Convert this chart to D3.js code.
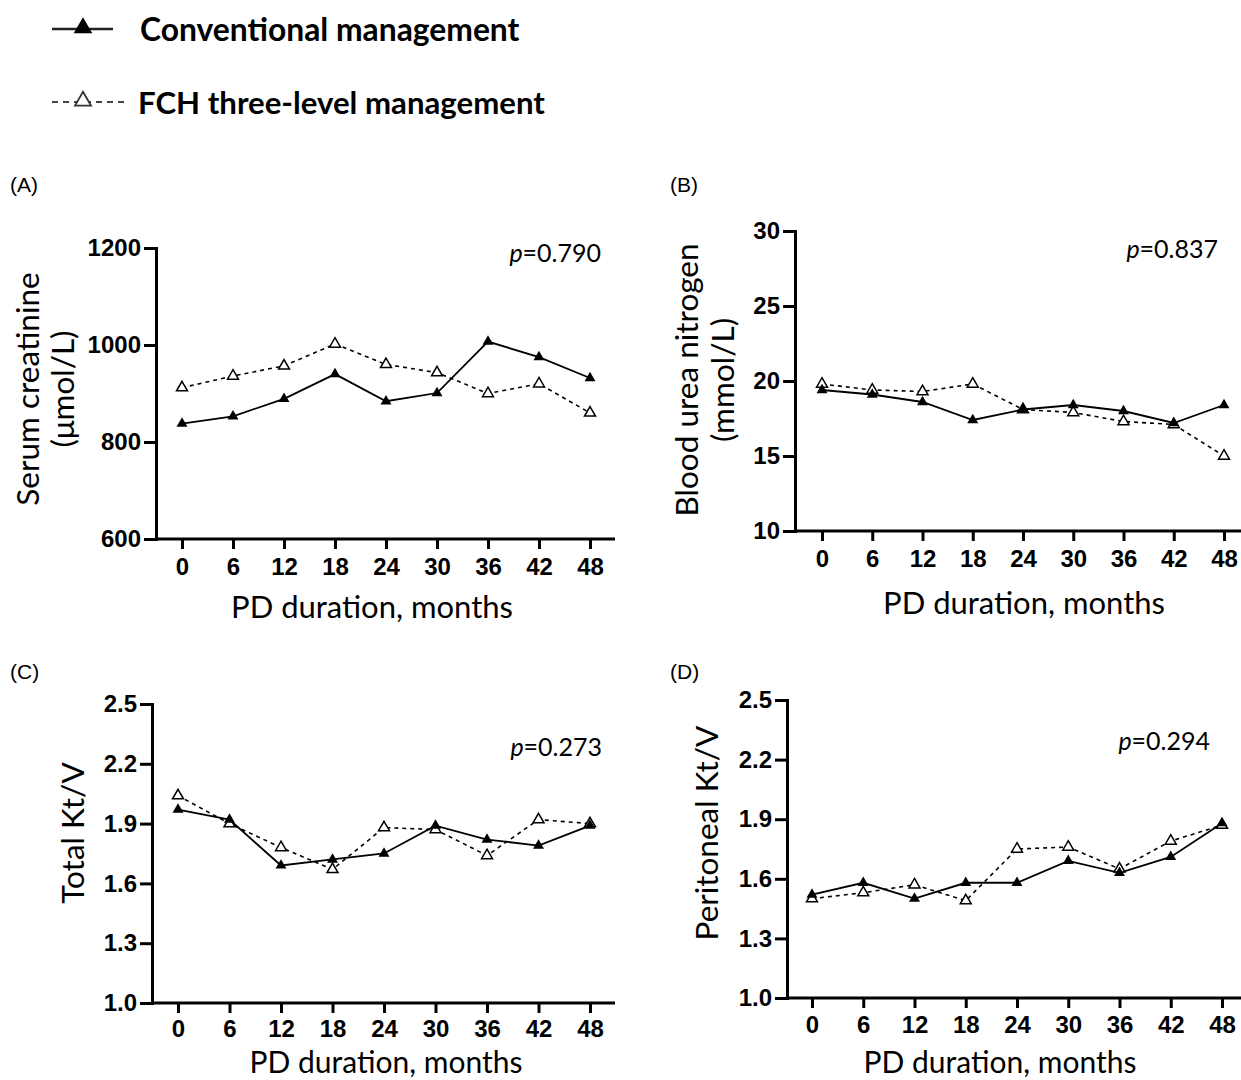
<!DOCTYPE html>
<html>
<head>
<meta charset="utf-8">
<script src="https://cdn.jsdelivr.net/npm/d3@7"></script>
<style>
  body { margin: 0; background: #fff; }
  svg { display: block; }
</style>
</head>
<body>
<div id="vis"></div>
<script>
//Declare constants for frame
const FRAME_WIDTH = 1241;
const FRAME_HEIGHT = 1080;

// data
const MONTHS = [0, 6, 12, 18, 24, 30, 36, 42, 48];
const SERIES_NAMES = ["Conventional management", "FCH three-level management"];

const CREAT_CONV = [838, 853, 889, 940, 884, 901, 1007, 975, 932];
const CREAT_FCH  = [912, 936, 957, 1002, 960, 943, 900, 920, 860];
const BUN_CONV   = [19.4, 19.1, 18.6, 17.4, 18.1, 18.4, 18.0, 17.2, 18.4];
const BUN_FCH    = [19.8, 19.4, 19.3, 19.8, 18.1, 17.9, 17.3, 17.1, 15.0];
const TKTV_CONV  = [1.97, 1.92, 1.69, 1.72, 1.75, 1.89, 1.82, 1.79, 1.89];
const TKTV_FCH   = [2.04, 1.90, 1.78, 1.67, 1.88, 1.87, 1.74, 1.92, 1.90];
const PKTV_CONV  = [1.52, 1.58, 1.50, 1.58, 1.58, 1.69, 1.63, 1.71, 1.88];
const PKTV_FCH   = [1.50, 1.53, 1.57, 1.49, 1.75, 1.76, 1.65, 1.79, 1.87];

const CREAT_TICKS = [600, 800, 1000, 1200];
const BUN_TICKS   = [10, 15, 20, 25, 30];
const KTV_TICKS   = [1.0, 1.3, 1.6, 1.9, 2.2, 2.5];

const P_VALUES = ["0.790", "0.837", "0.273", "0.294"];
const X_TITLE = "PD duration, months";

const TEXT_FONT = "Lato, 'Open Sans', sans-serif";
const TICK_FONT = "'Liberation Sans', Arial, sans-serif";

// panel layout (pixel positions of each small chart)
const PANELS = [
  {letter: "(A)", lx: 10, ly: 184, axisX: 156, xEnd: 615, x0: 182, x48: 590, yTop: 248, yBot: 539,
   conv: CREAT_CONV, fch: CREAT_FCH, ticks: CREAT_TICKS, fmt: d3.format("d"),
   titles: ["Serum creatinine", "(\u03bcmol/L)"], titleX: [27, 62], titleY: 389,
   xtX: 372, xtY: 606, xtSize: 31, pad: 9, p: P_VALUES[0], pX: 601, pY: 252},
  {letter: "(B)", lx: 670, ly: 184, axisX: 795, xEnd: 1250, x0: 822, x48: 1224, yTop: 231, yBot: 531,
   conv: BUN_CONV, fch: BUN_FCH, ticks: BUN_TICKS, fmt: d3.format("d"),
   titles: ["Blood urea nitrogen", "(mmol/L)"], titleX: [686, 722], titleY: 380,
   xtX: 1024, xtY: 602, xtSize: 31, pad: 9, p: P_VALUES[1], pX: 1218, pY: 248},
  {letter: "(C)", lx: 10, ly: 671, axisX: 152, xEnd: 615, x0: 178, x48: 590, yTop: 704, yBot: 1003,
   conv: TKTV_CONV, fch: TKTV_FCH, ticks: KTV_TICKS, fmt: d3.format(".1f"),
   titles: ["Total Kt/V"], titleX: [72], titleY: 833,
   xtX: 386, xtY: 1061, xtSize: 30, pad: 7, p: P_VALUES[2], pX: 602, pY: 746},
  {letter: "(D)", lx: 670, ly: 671, axisX: 787, xEnd: 1250, x0: 812, x48: 1222, yTop: 700, yBot: 998,
   conv: PKTV_CONV, fch: PKTV_FCH, ticks: KTV_TICKS, fmt: d3.format(".1f"),
   titles: ["Peritoneal Kt/V"], titleX: [706], titleY: 833,
   xtX: 1000, xtY: 1061, xtSize: 30, pad: 8, p: P_VALUES[3], pX: 1210, pY: 740}
];

const FRAME = d3.select("#vis")
                .append("svg")
                  .attr("width", FRAME_WIDTH)
                  .attr("height", FRAME_HEIGHT);

FRAME.append("rect")
     .attr("width", FRAME_WIDTH)
     .attr("height", FRAME_HEIGHT)
     .attr("fill", "#fff");

const TRI = d3.symbol().type(d3.symbolTriangle);

// LEGEND
const LEGEND = FRAME.append("g");
SERIES_NAMES.forEach((name, i) => {
  const ly = i === 0 ? 29 : 102;
  LEGEND.append("line")
        .attr("x1", 52).attr("x2", i === 0 ? 113 : 124)
        .attr("y1", ly).attr("y2", ly)
        .attr("stroke", i === 0 ? "#222" : "#444")
        .attr("stroke-width", i === 0 ? 2.5 : 2)
        .attr("stroke-dasharray", i === 0 ? null : "6,5");
  LEGEND.append("path")
        .attr("d", TRI.size(i === 0 ? 150 : 110)())
        .attr("transform", "translate(83," + (ly - 1) + ")")
        .attr("fill", i === 0 ? "#000" : "#fff")
        .attr("stroke", i === 0 ? "#000" : "#333")
        .attr("stroke-width", i === 0 ? 0 : 1.8);
  LEGEND.append("text")
        .attr("x", i === 0 ? 140 : 138)
        .attr("y", ly)
        .attr("dominant-baseline", "central")
        .attr("font-family", TEXT_FONT)
        .attr("font-weight", "bold")
        .attr("font-size", i === 0 ? "31.8px" : "31.2px")
        .text(name);
});

// one small chart per panel
PANELS.forEach((P) => {
  const G = FRAME.append("g");

  const X_SCALE = d3.scaleLinear().domain([0, 48]).range([P.x0, P.x48]);
  const Y_SCALE = d3.scaleLinear()
                    .domain([d3.min(P.ticks), d3.max(P.ticks)])
                    .range([P.yBot, P.yTop]);

  // panel letter
  G.append("text")
   .attr("x", P.lx).attr("y", P.ly)
   .attr("dominant-baseline", "central")
   .attr("font-family", TICK_FONT)
   .attr("font-size", "21px")
   .text(P.letter);

  // y axis
  const YAX = G.append("g")
               .attr("transform", "translate(" + P.axisX + ",0)")
               .call(d3.axisLeft(Y_SCALE).tickValues(P.ticks).tickFormat(P.fmt)
                       .tickSize(12).tickSizeOuter(0).tickPadding(3));
  YAX.select(".domain").attr("stroke-width", 3).attr("stroke-linecap", "square");
  YAX.selectAll(".tick line").attr("stroke-width", 3);
  YAX.selectAll("text")
     .attr("font-family", TICK_FONT).attr("font-weight", "bold")
     .attr("font-size", "24px").attr("fill", "#000");

  // x axis
  const XAX = G.append("g")
               .attr("transform", "translate(0," + P.yBot + ")")
               .call(d3.axisBottom(X_SCALE).tickValues(MONTHS)
                       .tickSize(10).tickSizeOuter(0).tickPadding(P.pad));
  XAX.select(".domain").remove();
  XAX.append("line")
     .attr("x1", P.axisX).attr("x2", P.xEnd)
     .attr("stroke", "#000").attr("stroke-width", 3);
  XAX.selectAll(".tick line").attr("stroke-width", 3);
  XAX.selectAll("text")
     .attr("font-family", TICK_FONT).attr("font-weight", "bold")
     .attr("font-size", "24px").attr("fill", "#000");

  // axis titles
  P.titles.forEach((t, k) => {
    G.append("text")
     .attr("transform", "translate(" + P.titleX[k] + "," + P.titleY + ") rotate(-90)")
     .attr("text-anchor", "middle")
     .attr("dominant-baseline", "central")
     .attr("font-family", TEXT_FONT)
     .attr("font-size", "31.5px")
     .text(t);
  });
  G.append("text")
   .attr("x", P.xtX)
   .attr("y", P.xtY)
   .attr("text-anchor", "middle")
   .attr("dominant-baseline", "central")
   .attr("font-family", TEXT_FONT)
   .attr("font-size", P.xtSize + "px")
   .text(X_TITLE);

  // p value
  const PT = G.append("text")
              .attr("x", P.pX).attr("y", P.pY)
              .attr("text-anchor", "end")
              .attr("dominant-baseline", "central")
              .attr("font-family", TEXT_FONT)
              .attr("font-size", "25px");
  PT.append("tspan").attr("font-style", "italic").text("p");
  PT.append("tspan").text("=" + P.p);

  const LINE = d3.line()
                 .x((d, i) => X_SCALE(MONTHS[i]))
                 .y((d) => Y_SCALE(d));

  // FCH three-level (dashed, open triangles)
  G.append("path")
   .datum(P.fch)
   .attr("d", LINE)
   .attr("fill", "none")
   .attr("stroke", "#000")
   .attr("stroke-width", 1.6)
   .attr("stroke-dasharray", "4,4");

  // conventional (solid, filled triangles)
  G.append("path")
   .datum(P.conv)
   .attr("d", LINE)
   .attr("fill", "none")
   .attr("stroke", "#000")
   .attr("stroke-width", 1.8);

  G.selectAll(".fch")
   .data(P.fch)
   .enter()
   .append("path")
     .attr("d", TRI.size(52)())
     .attr("transform", (d, i) => "translate(" + X_SCALE(MONTHS[i]) + "," + Y_SCALE(d) + ")")
     .attr("fill", "#fff")
     .attr("stroke", "#000")
     .attr("stroke-width", 1.5);

  G.selectAll(".conv")
   .data(P.conv)
   .enter()
   .append("path")
     .attr("d", TRI.size(52)())
     .attr("transform", (d, i) => "translate(" + X_SCALE(MONTHS[i]) + "," + Y_SCALE(d) + ")")
     .attr("fill", "#000");
});
</script>
</body>
</html>
